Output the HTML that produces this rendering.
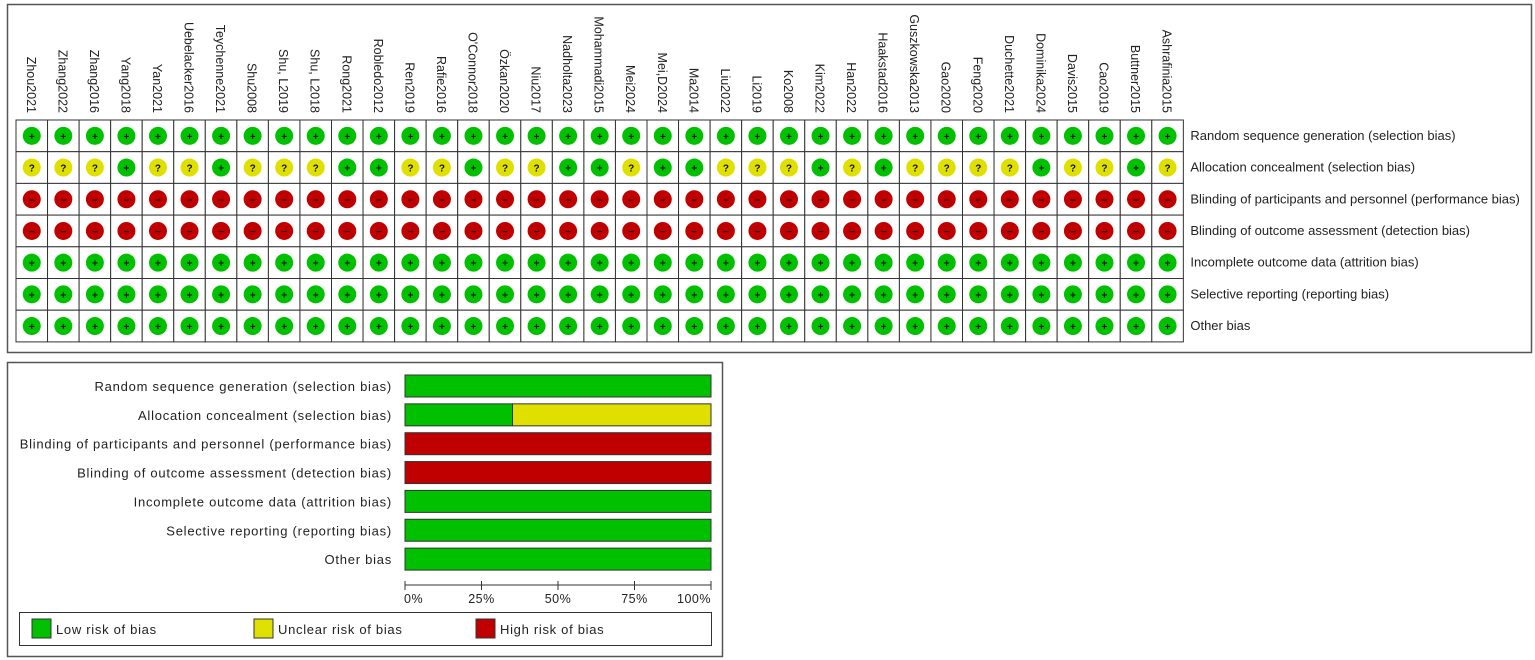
<!DOCTYPE html>
<html><head><meta charset="utf-8"><style>
body{margin:0;background:#fff;width:1535px;height:660px;overflow:hidden;font-family:"Liberation Sans",sans-serif}
svg{display:block}
text{font-family:"Liberation Sans",sans-serif;font-size:12px;fill:#222}
</style></head><body>
<svg id="chart" width="1535" height="660" xmlns="http://www.w3.org/2000/svg">
<rect x="7.5" y="4.5" width="1524" height="348" fill="none" stroke="#555" stroke-width="1.5"/>
<rect x="7.5" y="362.5" width="715" height="294" fill="none" stroke="#555" stroke-width="1.5"/>
<g id="grid"></g>
<g id="bars"></g>
</svg>
<script>
const studies=["Zhou2021","Zhang2022","Zhang2016","Yang2018","Yan2021","Uebelacker2016","Teychenne2021","Shu2008","Shu, L2019","Shu, L2018","Rong2021","Robledo2012","Ren2019","Rafie2016","O'Connor2018","Özkan2020","Niu2017","Nadholta2023","Mohammadi2015","Mei2024","Mei,D2024","Ma2014","Liu2022","Li2019","Ko2008","Kim2022","Han2022","Haakstad2016","Guszkowska2013","Gao2020","Feng2020","Duchette2021","Dominika2024","Davis2015","Cao2019","Buttner2015","Ashrafinia2015"];
const domains=["Random sequence generation (selection bias)","Allocation concealment (selection bias)","Blinding of participants and personnel (performance bias)","Blinding of outcome assessment (detection bias)","Incomplete outcome data (attrition bias)","Selective reporting (reporting bias)","Other bias"];
const allocation="???+??+???++??+??++?++???+?+????+??+?";
const ratings=[
 "+".repeat(37),
 allocation,
 "-".repeat(37),
 "-".repeat(37),
 "+".repeat(37),
 "+".repeat(37),
 "+".repeat(37)
];
const tickLabels=["0%","25%","50%","75%","100%"];
const tickValues=[0,25,50,75,100];
const NS="http://www.w3.org/2000/svg";
function mk(tag,attrs,parent,txt){const e=document.createElementNS(NS,tag);for(const k in attrs)e.setAttribute(k,attrs[k]);if(txt!==undefined)e.textContent=txt;parent.appendChild(e);return e;}
const grid=document.getElementById('grid');
const gx0=16,cw=31.55,gy0=120,rh=31.7;
const colX=i=>gx0+i*cw, rowY=j=>gy0+j*rh;
const fill={"+":"#00c000","?":"#e0e000","-":"#c00000"};
const sym={"+":"+","?":"?","-":"−"};
studies.forEach((s,i)=>{
 const cx=colX(i)+cw/2;
 const t=mk('text',{x:113,y:0,'text-anchor':'end',style:'font-size:12.5px'},grid,s);
 t.setAttribute('transform',`translate(${cx-5},0) rotate(90)`);
 
 
});
ratings.forEach((row,j)=>{
 for(let i=0;i<studies.length;i++){
  const r=row[i];
  const c=mk('rect',{x:colX(i),y:rowY(j),width:cw,height:rh,fill:'#fff',stroke:'#333','stroke-width':1},grid);
  
  
  const cx=colX(i)+cw/2,cy=rowY(j)+rh/2;
  const ci=mk('circle',{cx:cx,cy:cy,r:9,fill:fill[r]},grid);
  
  
  const st=mk('text',{x:cx,y:cy+4,'text-anchor':'middle',style:'font-size:10px;font-weight:bold;fill:#111'},grid,sym[r]);
  
  
 }
 const dl=mk('text',{x:colX(studies.length)+7,y:rowY(j)+rh/2+4,style:'font-size:13px'},grid,domains[j]);
 
 
});
const bars=document.getElementById('bars');
const bx0=405,bx1=711;
const xs=v=>bx0+(bx1-bx0)*v/100;
const by0=375,bs=28.85,bh=22;
domains.forEach((d,j)=>{
 const row=ratings[j];const n=row.length;
 const cnt={"+":0,"?":0,"-":0};for(const ch of row)cnt[ch]++;
 let acc=0;const y=by0+j*bs;
 ["+","?","-"].forEach(k=>{
  if(!cnt[k])return;
  const p=cnt[k]/n*100;
  const b=mk('rect',{x:xs(acc),y:y,width:xs(acc+p)-xs(acc),height:bh,fill:fill[k],stroke:'#333','stroke-width':1},bars);
  
  
  acc+=p;
 });
 const l=mk('text',{x:392,y:y+bh/2+5,'text-anchor':'end',style:'font-size:13px;letter-spacing:0.75px'},bars,d);
 
 
});
const ax=mk('line',{x1:bx0,y1:585,x2:bx1,y2:585,stroke:'#333'},bars);


tickValues.forEach((v,i)=>{
 const tk=mk('line',{x1:xs(v),y1:581,x2:xs(v),y2:590,stroke:'#333'},bars);
 
 
 const anchor=i===0?'start':(i===tickValues.length-1?'end':'middle');
 const tl=mk('text',{x:xs(v)+(i===0?-1:0),y:603,'text-anchor':anchor,style:'font-size:12.5px;letter-spacing:0.5px'},bars,tickLabels[i]);
 
 
});
const lg=mk('rect',{x:19.5,y:612.5,width:692,height:33,fill:'#fff',stroke:'#333'},bars);


[["+","Low risk of bias",32],["?","Unclear risk of bias",254],["-","High risk of bias",476]].forEach(([k,t,x])=>{
 const sw=mk('rect',{x:x,y:619,width:19,height:19,fill:fill[k],stroke:'#333'},bars);
 
 
 const lt=mk('text',{x:x+24,y:634,style:'font-size:13px;letter-spacing:0.7px'},bars,t);
 
 
});
</script>
</body></html>
